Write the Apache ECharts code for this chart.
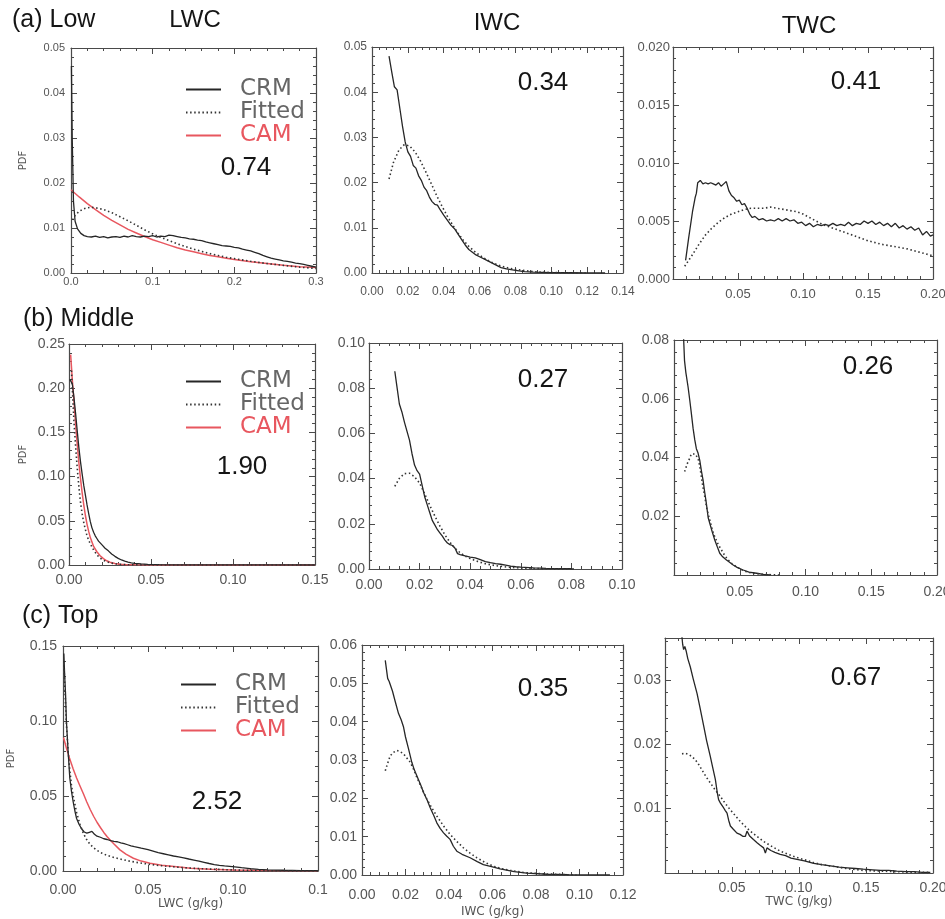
<!DOCTYPE html>
<html><head><meta charset="utf-8">
<script src="https://cdn.jsdelivr.net/npm/echarts@6/dist/echarts.min.js"></script>
<style>html,body{margin:0;padding:0;background:#fff}#c{width:945px;height:919px}</style>
</head><body><div id="c"></div><script>
// ---------- data ----------
const seriesNames = ['CRM', 'Fitted', 'CAM'];
const rowTitles = ['(a) Low', '(b) Middle', '(c) Top'];
const columnTitles = ['LWC', 'IWC', 'TWC'];
const xAxisNames = ['LWC (g/kg)', 'IWC (g/kg)', 'TWC (g/kg)'];
const panelNumbers = ['0.74', '0.34', '0.41', '1.90', '0.27', '0.26', '2.52', '0.35', '0.67'];

const lowLwcCrm = [[0.0005,0.046],[0.0015,0.030],[0.003,0.016],[0.005,0.0115],[0.008,0.0098],[0.012,0.0088],[0.016,0.0083],[0.02,0.0081],[0.025,0.0080],[0.03,0.0082],[0.035,0.0079],[0.04,0.0081],[0.045,0.0078],[0.05,0.0080],[0.055,0.0081],[0.06,0.0079],[0.065,0.0082],[0.07,0.0080],[0.075,0.0083],[0.08,0.0081],[0.085,0.0080],[0.09,0.0082],[0.095,0.0081],[0.1,0.0083],[0.105,0.0080],[0.11,0.0082],[0.115,0.0081],[0.12,0.0084],[0.125,0.0083],[0.13,0.0081],[0.135,0.0079],[0.14,0.0078],[0.145,0.0076],[0.15,0.0075],[0.155,0.0073],[0.16,0.0072],[0.165,0.0069],[0.17,0.0067],[0.175,0.0065],[0.18,0.0063],[0.185,0.0061],[0.19,0.0060],[0.195,0.0059],[0.2,0.0057],[0.205,0.0056],[0.21,0.0053],[0.215,0.0051],[0.22,0.0049],[0.225,0.0046],[0.23,0.0043],[0.235,0.0039],[0.24,0.0036],[0.245,0.0033],[0.25,0.0031],[0.255,0.0029],[0.26,0.0027],[0.265,0.0026],[0.27,0.0024],[0.275,0.0022],[0.28,0.0021],[0.285,0.0019],[0.29,0.0017],[0.295,0.0015],[0.3,0.0013]];
const lowLwcFit = [[0.002,0.0118],[0.005,0.0128],[0.01,0.0137],[0.015,0.0142],[0.02,0.0145],[0.025,0.0146],[0.03,0.0145],[0.04,0.0141],[0.05,0.0134],[0.06,0.0125],[0.07,0.0116],[0.08,0.0106],[0.09,0.0096],[0.1,0.0087],[0.11,0.0079],[0.12,0.0072],[0.13,0.0065],[0.14,0.0059],[0.15,0.0053],[0.16,0.0048],[0.17,0.0043],[0.18,0.0039],[0.19,0.0035],[0.2,0.0032],[0.22,0.0026],[0.24,0.0021],[0.26,0.0017],[0.28,0.0013],[0.3,0.0010]];
const lowLwcCam = [[0,0.0185],[0.01,0.0169],[0.02,0.0154],[0.03,0.0141],[0.04,0.0128],[0.05,0.0117],[0.06,0.0107],[0.07,0.0097],[0.08,0.0089],[0.09,0.0081],[0.1,0.0074],[0.11,0.0068],[0.12,0.0062],[0.13,0.0056],[0.14,0.0051],[0.15,0.0047],[0.16,0.0043],[0.17,0.0039],[0.18,0.0036],[0.19,0.0033],[0.2,0.0030],[0.22,0.0025],[0.24,0.0021],[0.26,0.0017],[0.28,0.0014],[0.3,0.0012]];

const lowIwcCrm = [[0.0095,0.048],[0.011,0.0445],[0.0125,0.0412],[0.014,0.0405],[0.0155,0.0365],[0.017,0.0325],[0.0185,0.029],[0.020,0.0268],[0.0215,0.0258],[0.023,0.0238],[0.0245,0.0232],[0.026,0.0215],[0.0275,0.0205],[0.029,0.019],[0.0305,0.0182],[0.032,0.0168],[0.0335,0.0158],[0.035,0.0152],[0.0365,0.0150],[0.038,0.0140],[0.04,0.0128],[0.042,0.0117],[0.044,0.0106],[0.046,0.0098],[0.048,0.0086],[0.05,0.0074],[0.052,0.0062],[0.054,0.0052],[0.056,0.0046],[0.058,0.0040],[0.06,0.0036],[0.063,0.0030],[0.066,0.0024],[0.069,0.0018],[0.072,0.0012],[0.075,0.0009],[0.08,0.0006],[0.085,0.0003],[0.09,0.0002],[0.1,0.0001],[0.11,0.00005],[0.12,0.00002],[0.13,0]];
const lowIwcFit = [[0.0095,0.0208],[0.012,0.0245],[0.015,0.0272],[0.018,0.0284],[0.021,0.0281],[0.024,0.0268],[0.027,0.0248],[0.03,0.0224],[0.033,0.0198],[0.036,0.0172],[0.039,0.0148],[0.042,0.0126],[0.045,0.0106],[0.048,0.0088],[0.051,0.0072],[0.054,0.0059],[0.058,0.0045],[0.062,0.0034],[0.066,0.0025],[0.07,0.0018],[0.075,0.0012],[0.08,0.0008],[0.09,0.0003],[0.1,0.0001],[0.11,0.00004],[0.12,0]];

const lowTwcCrm = [[0.0097,0.0016],[0.012,0.0035],[0.015,0.0058],[0.017,0.0070],[0.018,0.0074],[0.019,0.0083],[0.021,0.0085],[0.023,0.0082],[0.025,0.0083],[0.027,0.0082],[0.029,0.0083],[0.031,0.0082],[0.033,0.0081],[0.035,0.0083],[0.037,0.0080],[0.039,0.0082],[0.041,0.0084],[0.043,0.0076],[0.045,0.0072],[0.047,0.0070],[0.049,0.0067],[0.051,0.0068],[0.053,0.0064],[0.055,0.0065],[0.057,0.0061],[0.059,0.0056],[0.061,0.0053],[0.063,0.0054],[0.066,0.0051],[0.069,0.0052],[0.072,0.0050],[0.075,0.0051],[0.078,0.0050],[0.081,0.0052],[0.084,0.0050],[0.087,0.0052],[0.09,0.0050],[0.093,0.0051],[0.096,0.0048],[0.099,0.0049],[0.102,0.0046],[0.105,0.0048],[0.108,0.0045],[0.111,0.0047],[0.114,0.0046],[0.117,0.0047],[0.12,0.0046],[0.123,0.0048],[0.126,0.0046],[0.129,0.0047],[0.132,0.0046],[0.135,0.0049],[0.138,0.0046],[0.141,0.0048],[0.144,0.0047],[0.147,0.0050],[0.15,0.0048],[0.153,0.0050],[0.156,0.0047],[0.159,0.0049],[0.162,0.0046],[0.165,0.0048],[0.168,0.0045],[0.171,0.0048],[0.174,0.0044],[0.177,0.0046],[0.18,0.0043],[0.183,0.0045],[0.186,0.0042],[0.189,0.0044],[0.192,0.0038],[0.195,0.0041],[0.198,0.0037],[0.2,0.0038]];
const lowTwcFit = [[0.009,0.0011],[0.015,0.0021],[0.02,0.0030],[0.025,0.0038],[0.03,0.0044],[0.035,0.0049],[0.04,0.0053],[0.045,0.0056],[0.05,0.0058],[0.055,0.0060],[0.06,0.0061],[0.065,0.0061],[0.07,0.0061],[0.075,0.0062],[0.08,0.0061],[0.085,0.0060],[0.09,0.0059],[0.095,0.0058],[0.1,0.0056],[0.105,0.0053],[0.11,0.0050],[0.115,0.0047],[0.12,0.0045],[0.13,0.0041],[0.14,0.0037],[0.15,0.0033],[0.16,0.0030],[0.17,0.0028],[0.18,0.0026],[0.19,0.0023],[0.2,0.0020]];

const midLwcCrm = [[0.0005,0.21],[0.002,0.205],[0.003,0.19],[0.004,0.172],[0.005,0.152],[0.006,0.133],[0.007,0.117],[0.008,0.103],[0.009,0.090],[0.010,0.079],[0.011,0.068],[0.012,0.058],[0.013,0.049],[0.014,0.042],[0.015,0.037],[0.016,0.033],[0.017,0.030],[0.018,0.027],[0.019,0.025],[0.020,0.023],[0.022,0.019],[0.024,0.016],[0.026,0.0125],[0.028,0.0098],[0.030,0.0075],[0.032,0.0057],[0.034,0.0043],[0.036,0.0033],[0.038,0.0025],[0.040,0.0019],[0.044,0.0012],[0.048,0.0008],[0.055,0.0004],[0.065,0.0002],[0.08,0.0001],[0.1,0.0001],[0.12,0.00005],[0.15,0]];
const midLwcFit = [[0.0015,0.22],[0.002,0.20],[0.003,0.163],[0.004,0.135],[0.005,0.11],[0.006,0.089],[0.007,0.071],[0.008,0.058],[0.009,0.048],[0.010,0.040],[0.011,0.033],[0.012,0.028],[0.013,0.024],[0.015,0.017],[0.017,0.0115],[0.019,0.0078],[0.021,0.0053],[0.023,0.0037],[0.026,0.0021],[0.029,0.0011],[0.033,0.0005],[0.038,0.0002],[0.045,0.0001],[0.06,0],[0.15,0]];
const midLwcCam = [[0.001,0.238],[0.002,0.21],[0.003,0.186],[0.004,0.16],[0.005,0.137],[0.006,0.116],[0.007,0.098],[0.008,0.082],[0.009,0.068],[0.010,0.056],[0.011,0.046],[0.012,0.038],[0.013,0.031],[0.014,0.026],[0.015,0.021],[0.017,0.015],[0.019,0.0105],[0.021,0.0072],[0.023,0.0048],[0.025,0.0032],[0.028,0.0017],[0.031,0.0009],[0.035,0.0004],[0.04,0.0002],[0.05,0.0001],[0.07,0],[0.15,0]];

const midIwcCrm = [[0.0102,0.0875],[0.011,0.081],[0.012,0.073],[0.013,0.0695],[0.014,0.065],[0.015,0.061],[0.016,0.057],[0.017,0.051],[0.018,0.046],[0.019,0.0435],[0.020,0.042],[0.021,0.037],[0.022,0.032],[0.023,0.0285],[0.024,0.025],[0.025,0.0215],[0.026,0.0195],[0.027,0.0175],[0.028,0.016],[0.029,0.0145],[0.030,0.0128],[0.031,0.0115],[0.032,0.0108],[0.033,0.0104],[0.034,0.0092],[0.035,0.0068],[0.036,0.0064],[0.038,0.0058],[0.040,0.0053],[0.042,0.0049],[0.044,0.0041],[0.046,0.0033],[0.048,0.0028],[0.050,0.0024],[0.052,0.0021],[0.054,0.0017],[0.056,0.0013],[0.058,0.001],[0.06,0.0008],[0.065,0.0005],[0.07,0.0003],[0.075,0.0002],[0.08,0.0001],[0.081,0]];
const midIwcFit = [[0.0102,0.0366],[0.012,0.0401],[0.014,0.0422],[0.016,0.0424],[0.018,0.0408],[0.020,0.038],[0.022,0.0333],[0.024,0.0282],[0.026,0.0235],[0.028,0.0191],[0.030,0.0151],[0.032,0.0118],[0.034,0.0092],[0.036,0.0072],[0.038,0.0057],[0.040,0.0046],[0.043,0.0033],[0.046,0.0023],[0.050,0.0015],[0.055,0.0008],[0.06,0.0004],[0.07,0.0001],[0.08,0]];

const midTwcCrm = [[0.0069,0.085],[0.008,0.073],[0.009,0.069],[0.0107,0.064],[0.012,0.0595],[0.0132,0.055],[0.0145,0.050],[0.0158,0.046],[0.017,0.043],[0.0183,0.0415],[0.0196,0.039],[0.021,0.035],[0.0221,0.0323],[0.0234,0.028],[0.0246,0.0244],[0.026,0.0195],[0.0272,0.0176],[0.029,0.0148],[0.031,0.0119],[0.033,0.0095],[0.0348,0.0074],[0.037,0.0062],[0.0399,0.0051],[0.042,0.0044],[0.045,0.0034],[0.048,0.0026],[0.0526,0.0017],[0.057,0.001],[0.0628,0.0006],[0.068,0.0002],[0.073,0]];
const midTwcFit = [[0.0081,0.0352],[0.01,0.0378],[0.0119,0.0397],[0.0132,0.0412],[0.0145,0.0417],[0.016,0.0412],[0.0183,0.0397],[0.0196,0.037],[0.0208,0.0335],[0.022,0.030],[0.0234,0.0267],[0.025,0.0225],[0.0272,0.0187],[0.029,0.0156],[0.031,0.013],[0.0335,0.0105],[0.0361,0.0085],[0.0385,0.0067],[0.0412,0.0051],[0.044,0.0039],[0.0475,0.0028],[0.051,0.0019],[0.0551,0.0011],[0.06,0.0006],[0.0679,0.0002],[0.08,0]];

const topLwcCrm = [[0.0005,0.145],[0.001,0.13],[0.0015,0.118],[0.002,0.10],[0.003,0.08],[0.004,0.062],[0.005,0.053],[0.006,0.046],[0.007,0.040],[0.008,0.035],[0.0095,0.031],[0.011,0.028],[0.0125,0.026],[0.014,0.0252],[0.0155,0.0258],[0.017,0.0264],[0.0185,0.0245],[0.020,0.0232],[0.022,0.0225],[0.024,0.0215],[0.026,0.021],[0.028,0.0202],[0.030,0.0198],[0.032,0.0195],[0.034,0.0188],[0.036,0.0182],[0.038,0.0175],[0.040,0.0168],[0.042,0.0162],[0.044,0.0158],[0.046,0.0152],[0.048,0.0148],[0.050,0.0142],[0.053,0.0132],[0.056,0.0122],[0.059,0.0115],[0.062,0.0108],[0.065,0.0100],[0.068,0.0094],[0.071,0.0088],[0.074,0.0080],[0.077,0.0073],[0.080,0.0066],[0.083,0.0058],[0.086,0.0050],[0.089,0.0043],[0.092,0.0038],[0.095,0.0034],[0.098,0.0031],[0.101,0.0028],[0.105,0.0022],[0.11,0.0016],[0.115,0.0011],[0.12,0.0008],[0.13,0.0005],[0.14,0.0003],[0.15,0.0002]];
const topLwcFit = [[0.0005,0.14],[0.001,0.125],[0.002,0.098],[0.003,0.080],[0.004,0.067],[0.005,0.057],[0.006,0.050],[0.008,0.039],[0.010,0.031],[0.012,0.025],[0.014,0.0208],[0.016,0.0177],[0.018,0.0155],[0.020,0.0138],[0.023,0.0118],[0.026,0.0104],[0.030,0.0090],[0.035,0.0076],[0.040,0.0064],[0.045,0.0054],[0.050,0.0046],[0.055,0.0039],[0.060,0.0033],[0.065,0.0028],[0.070,0.0023],[0.080,0.0016],[0.090,0.0011],[0.10,0.0007],[0.11,0.0004],[0.12,0.0002],[0.15,0]];
const topLwcCam = [[0.0003,0.089],[0.002,0.082],[0.004,0.0746],[0.006,0.068],[0.008,0.062],[0.010,0.0567],[0.012,0.0515],[0.014,0.046],[0.016,0.041],[0.018,0.0365],[0.020,0.0325],[0.022,0.029],[0.024,0.0257],[0.026,0.0228],[0.028,0.0203],[0.030,0.018],[0.0335,0.0141],[0.037,0.0112],[0.0414,0.0085],[0.046,0.0066],[0.0512,0.0052],[0.058,0.0039],[0.0669,0.0029],[0.075,0.0019],[0.0865,0.0011],[0.1,0.0006],[0.12,0.0003],[0.15,0.0001]];

const topIwcCrm = [[0.0107,0.056],[0.0118,0.0513],[0.0125,0.0505],[0.013,0.0508],[0.014,0.048],[0.0153,0.0452],[0.0168,0.0421],[0.018,0.0405],[0.0191,0.0386],[0.020,0.036],[0.0214,0.0329],[0.0229,0.0294],[0.024,0.0275],[0.0252,0.0259],[0.027,0.0235],[0.0283,0.0215],[0.030,0.0195],[0.0313,0.0176],[0.033,0.0155],[0.0344,0.0136],[0.036,0.0121],[0.0375,0.011],[0.039,0.0101],[0.0405,0.0093],[0.042,0.0075],[0.0436,0.0062],[0.046,0.0054],[0.0497,0.0045],[0.053,0.0035],[0.0558,0.0027],[0.06,0.0021],[0.0635,0.0016],[0.07,0.0009],[0.0757,0.0005],[0.085,0.0002],[0.095,0.0001],[0.114,0]];
const topIwcFit = [[0.0107,0.0272],[0.012,0.0295],[0.013,0.0311],[0.0145,0.032],[0.016,0.0325],[0.0175,0.0322],[0.0191,0.0316],[0.0205,0.0306],[0.0222,0.0294],[0.0237,0.0276],[0.0252,0.0255],[0.0275,0.0226],[0.0298,0.0198],[0.032,0.0176],[0.0344,0.0154],[0.0375,0.0128],[0.0405,0.0106],[0.0435,0.0088],[0.0466,0.0071],[0.0497,0.0057],[0.0528,0.0045],[0.0565,0.0033],[0.0604,0.0023],[0.064,0.0017],[0.068,0.0012],[0.075,0.0006],[0.0833,0.0003],[0.0986,0]];

const topTwcCrm = [[0.0125,0.037],[0.0132,0.0355],[0.0139,0.0347],[0.0148,0.0352],[0.0159,0.0344],[0.017,0.0333],[0.0189,0.032],[0.021,0.0302],[0.0239,0.0279],[0.026,0.0258],[0.0289,0.0228],[0.031,0.0206],[0.0338,0.0181],[0.0355,0.0165],[0.0376,0.0145],[0.039,0.0125],[0.04,0.0114],[0.0415,0.0108],[0.0438,0.0101],[0.045,0.0097],[0.0463,0.0093],[0.0475,0.0082],[0.0488,0.0073],[0.051,0.0068],[0.0537,0.0062],[0.056,0.006],[0.058,0.0057],[0.06,0.0057],[0.0612,0.0065],[0.063,0.0058],[0.066,0.0052],[0.0687,0.0047],[0.071,0.0043],[0.0736,0.0039],[0.0749,0.0031],[0.0761,0.0039],[0.079,0.0035],[0.082,0.0032],[0.086,0.0029],[0.09,0.0027],[0.094,0.0023],[0.0985,0.0021],[0.104,0.0019],[0.111,0.0015],[0.117,0.0013],[0.1234,0.0011],[0.13,0.0009],[0.136,0.0008],[0.142,0.0007],[0.148,0.0006],[0.155,0.0005],[0.161,0.0004],[0.167,0.0004],[0.173,0.0003],[0.18,0.0002],[0.186,0.0002],[0.192,0.0001],[0.198,0.0001]];
const topTwcFit = [[0.0127,0.0185],[0.015,0.0186],[0.0177,0.0184],[0.02,0.0181],[0.0226,0.0176],[0.025,0.0169],[0.0276,0.016],[0.0305,0.015],[0.0338,0.014],[0.0375,0.0129],[0.0413,0.0119],[0.045,0.0108],[0.0488,0.0098],[0.0525,0.0089],[0.0562,0.008],[0.06,0.0072],[0.0637,0.0065],[0.0686,0.0057],[0.0736,0.0049],[0.08,0.0041],[0.086,0.0034],[0.092,0.0029],[0.0985,0.0024],[0.105,0.002],[0.111,0.0016],[0.117,0.0013],[0.1234,0.0011],[0.135,0.0007],[0.148,0.0004],[0.16,0.0003],[0.173,0.0002],[0.186,0.0001],[0.198,0.0001]];

// ---------- layout / styling ----------
const C_CRM = '#262626', C_FIT = '#333333', C_CAM = '#e8575f', C_AX = '#4a4a4a', C_LBL = '#555';
const panels = [
  {g:[71,48,245,225],  x:[0,0.3,0.1,1],    y:[0,0.05,0.01,2],  d:[lowLwcCrm,lowLwcFit,lowLwcCam], fs:11, xm:3,  ym:6, num:[246,168], pdfGap:43},
  {g:[372,47,251,226], x:[0,0.14,0.02,2],  y:[0,0.05,0.01,2],  d:[lowIwcCrm,lowIwcFit], fs:12, xm:13, ym:5, num:[543,83]},
  {g:[673,47,260,232], x:[0,0.2,0.05,2],   y:[0,0.02,0.005,3], d:[lowTwcCrm,lowTwcFit], fs:13, xm:9,  ym:3, num:[856,82], hideXMin:true},
  {g:[69,344,246,221], x:[0,0.15,0.05,2],  y:[0,0.25,0.05,2],  d:[midLwcCrm,midLwcFit,midLwcCam], fs:14, xm:8,  ym:4, num:[242,467], pdfGap:41},
  {g:[369,343,253,226],x:[0,0.1,0.02,2],   y:[0,0.1,0.02,2],   d:[midIwcCrm,midIwcFit], fs:14, xm:9,  ym:4, num:[543,380]},
  {g:[674,340,263,235],x:[0,0.2,0.05,2],   y:[0,0.08,0.02,2],  d:[midTwcCrm,midTwcFit], fs:14, xm:10, ym:5, num:[868,367], hideXMin:true, hideYMin:true},
  {g:[63,646,255,225], x:[0,0.15,0.05,2],  y:[0,0.15,0.05,2],  d:[topLwcCrm,topLwcFit,topLwcCam], fs:14, xm:12, ym:6, num:[217,802], pdfGap:47, xName:0, xNameGap:27, cutLast:true},
  {g:[362,645,261,230],x:[0,0.12,0.02,2],  y:[0,0.06,0.01,2],  d:[topIwcCrm,topIwcFit], fs:14, xm:13, ym:5, num:[543,689], xName:1, xNameGap:31},
  {g:[665,638,268,235],x:[0,0.2,0.05,2],   y:[0,0.0365,0.01,2],d:[topTwcCrm,topTwcFit], fs:14, xm:8,  ym:4, num:[856,678], hideXMin:true, hideYMin:true, hideYMax:true, xName:2, xNameGap:23}
];

const grid = [], xAxis = [], yAxis = [], series = [], legend = [], graphic = [];
const tick = {show:true, inside:true, length:6, lineStyle:{color:C_AX, width:1}};
const minor = {show:true, splitNumber:5, length:3, lineStyle:{color:C_AX, width:1}};
const line = {show:true, onZero:false, lineStyle:{color:C_AX, width:1.2}};

panels.forEach((p, i) => {
  grid.push({left:p.g[0], top:p.g[1], width:p.g[2], height:p.g[3], containLabel:false, outerBoundsMode:'none'});
  const xFmt = v => (p.cutLast && Math.abs(v - p.x[1]) < 1e-9) ? '0.1' : v.toFixed(p.x[3]);
  const yFmt = v => v.toFixed(p.y[3]);
  const lbl = {fontSize:p.fs, color:C_LBL, fontFamily:'Liberation Sans'};
  const xb = {gridIndex:i, type:'value', min:p.x[0], max:p.x[1], interval:p.x[2], position:'bottom',
    axisLine:line, axisTick:tick, minorTick:minor, splitLine:{show:false},
    axisLabel:Object.assign({}, lbl, {margin:p.xm, formatter:xFmt, showMinLabel: p.hideXMin ? false : null})};
  if (p.xName !== undefined) {
    Object.assign(xb, {name:xAxisNames[p.xName], nameLocation:'middle', nameGap:p.xNameGap,
      nameTextStyle:{fontSize:12, color:C_LBL, fontFamily:'DejaVu Sans'}});
  }
  xAxis.push(xb);
  xAxis.push({gridIndex:i, type:'value', min:p.x[0], max:p.x[1], interval:p.x[2], position:'top',
    axisLine:line, axisTick:tick, minorTick:minor, splitLine:{show:false}, axisLabel:{show:false}});
  const yl = {gridIndex:i, type:'value', min:p.y[0], max:p.y[1], interval:p.y[2], position:'left',
    axisLine:line, axisTick:tick, minorTick:minor, splitLine:{show:false},
    axisLabel:Object.assign({}, lbl, {margin:p.ym, formatter:yFmt,
      showMinLabel: p.hideYMin ? false : null, showMaxLabel: p.hideYMax ? false : null})};
  if (p.pdfGap) {
    Object.assign(yl, {name:'PDF', nameLocation:'middle', nameRotate:90, nameGap:p.pdfGap,
      nameTextStyle:{fontSize:10, color:C_LBL, fontFamily:'DejaVu Sans'}});
  }
  yAxis.push(yl);
  yAxis.push({gridIndex:i, type:'value', min:p.y[0], max:p.y[1], interval:p.y[2], position:'right',
    axisLine:line, axisTick:tick, minorTick:minor, splitLine:{show:false}, axisLabel:{show:false}});

  const styles = [
    {color:C_CRM, width:1.3, type:'solid'},
    {color:C_FIT, width:1.6, type:[1.5, 2.6]},
    {color:C_CAM, width:1.5, type:'solid'}
  ];
  p.d.forEach((arr, k) => {
    series.push({type:'line', name:seriesNames[k], xAxisIndex:2*i, yAxisIndex:2*i, data:arr,
      symbol:'none', showSymbol:false, clip:true, lineStyle:styles[k], itemStyle:{color:styles[k].color},
      z: k === 2 ? 2 : 3, silent:true});
  });

  graphic.push({type:'text', x:p.num[0], y:p.num[1], silent:true,
    style:{text:panelNumbers[i], font:'26px "Liberation Sans"', fill:'#151515', align:'center', verticalAlign:'middle'}});
});

// legends inside the LWC panels (line only, no symbol)
[[185,78],[185,370],[180,673]].forEach(pos => {
  legend.push({left:pos[0], top:pos[1], orient:'vertical', padding:0, itemGap:0, itemWidth:35, itemHeight:12,
    selectedMode:false, formatter:'{a|{name}}', itemStyle:{opacity:0, borderWidth:0},
    textStyle:{fontFamily:'DejaVu Sans', fontSize:23, color:'#666', lineHeight:20,
      rich:{a:{fontFamily:'DejaVu Sans', fontSize:23, lineHeight:20, padding:[0,0,0,14]}}},
    data:[{name:'CRM'}, {name:'Fitted'}, {name:'CAM', textStyle:{color:C_CAM}}]});
});

// row / column titles
[[12,20],[23,319],[22,616]].forEach((pos, r) => {
  graphic.push({type:'text', x:pos[0], y:pos[1], silent:true,
    style:{text:rowTitles[r], font:'25px "Liberation Sans"', fill:'#151515', align:'left', verticalAlign:'middle'}});
});
[[195,20],[497,23],[809,26]].forEach((pos, c) => {
  graphic.push({type:'text', x:pos[0], y:pos[1], silent:true,
    style:{text:columnTitles[c], font:'24px "Liberation Sans"', fill:'#151515', align:'center', verticalAlign:'middle'}});
});

const chart = echarts.init(document.getElementById('c'), null, {renderer:'canvas'});
chart.setOption({animation:false, backgroundColor:'#fff', grid, xAxis, yAxis, series, legend, graphic, tooltip:{show:false}});
</script></body></html>
